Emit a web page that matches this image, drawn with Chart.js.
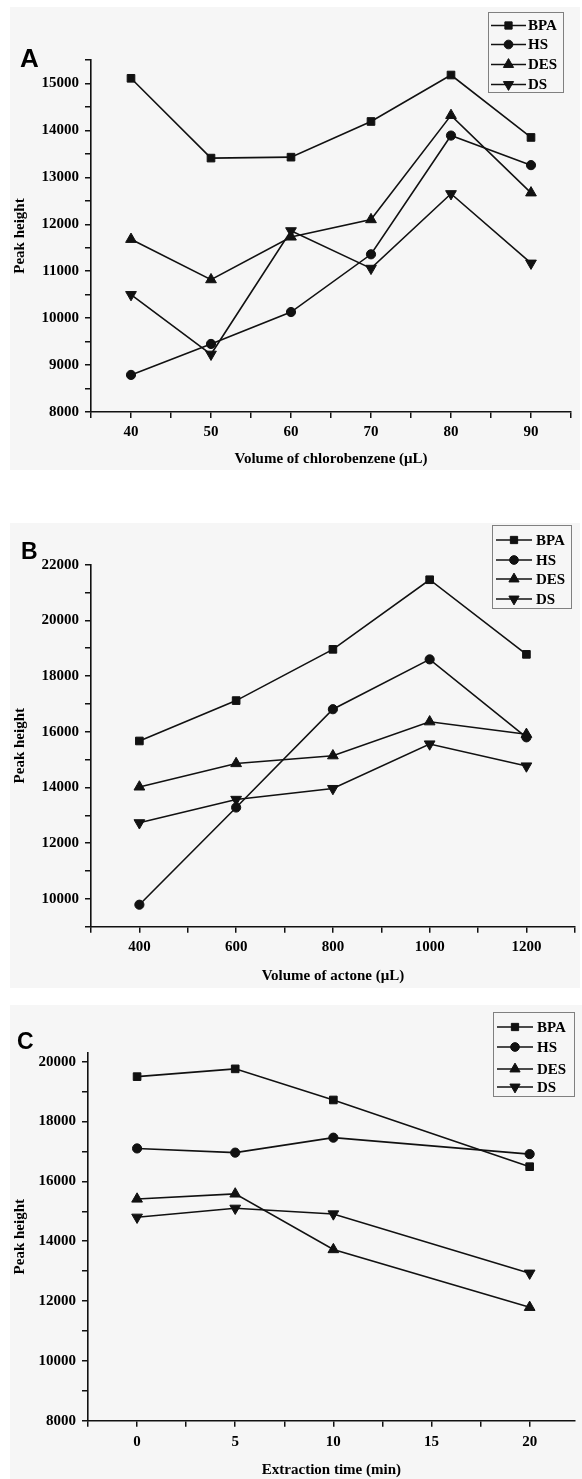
<!DOCTYPE html>
<html><head><meta charset="utf-8">
<script src="https://cdn.jsdelivr.net/npm/chart.js@4.4.0/dist/chart.umd.min.js"></script>
<style>
html,body{margin:0;padding:0;background:#fff;width:582px;height:1479px;overflow:hidden;position:relative}
.bg{position:absolute;background:#f6f6f6}
canvas{position:absolute;left:0}
</style></head><body>
<div class="bg" style="left:10px;top:7px;width:570px;height:463px"></div>
<div class="bg" style="left:10px;top:523px;width:570px;height:465px"></div>
<div class="bg" style="left:10px;top:1005px;width:572px;height:474px"></div>
<canvas id="cA" width="582" height="490" style="top:0"></canvas>
<canvas id="cB" width="582" height="500" style="top:490px"></canvas>
<canvas id="cC" width="582" height="489" style="top:990px"></canvas>
<script>
// ---------- DATA ----------
const seriesNames = ['BPA', 'HS', 'DES', 'DS'];

// Panel A: volume of chlorobenzene
const volChlorobenzene = [40, 50, 60, 70, 80, 90];
const bpaA = [15110, 13410, 13430, 14190, 15180, 13850];
const hsA  = [8790, 9450, 10130, 11360, 13890, 13260];
const desA = [11680, 10820, 11730, 12100, 14320, 12670];
const dsA  = [10500, 9230, 11860, 11060, 12650, 11170];
const xTicksA  = [35, 40, 45, 50, 55, 60, 65, 70, 75, 80, 85, 90, 95];
const xLabelsA = [40, 50, 60, 70, 80, 90];
const yTicksA  = [8000, 8500, 9000, 9500, 10000, 10500, 11000, 11500, 12000, 12500, 13000, 13500, 14000, 14500, 15000, 15500];
const yLabelsA = [8000, 9000, 10000, 11000, 12000, 13000, 14000, 15000];

// Panel B: volume of acetone
const volAcetone = [400, 600, 800, 1000, 1200];
const bpaB = [15670, 17120, 18960, 21460, 18780];
const hsB  = [9790, 13280, 16810, 18600, 15800];
const desB = [14020, 14860, 15140, 16360, 15910];
const dsB  = [12730, 13570, 13960, 15560, 14770];
const xTicksB  = [300, 400, 500, 600, 700, 800, 900, 1000, 1100, 1200, 1300];
const xLabelsB = [400, 600, 800, 1000, 1200];
const yTicksB  = [9000, 10000, 11000, 12000, 13000, 14000, 15000, 16000, 17000, 18000, 19000, 20000, 21000, 22000];
const yLabelsB = [10000, 12000, 14000, 16000, 18000, 20000, 22000];

// Panel C: extraction time
const extractionTime = [0, 5, 10, 20];
const bpaC = [19500, 19760, 18720, 16490];
const hsC  = [17100, 16960, 17460, 16910];
const desC = [15410, 15580, 13720, 11790];
const dsC  = [14800, 15100, 14910, 12930];
const xTicksC  = [-2.5, 0, 2.5, 5, 7.5, 10, 12.5, 15, 17.5, 20];
const xLabelsC = [0, 5, 10, 15, 20];
const yTicksC  = [8000, 9000, 10000, 11000, 12000, 13000, 14000, 15000, 16000, 17000, 18000, 19000, 20000];
const yLabelsC = [8000, 10000, 12000, 14000, 16000, 18000, 20000];

// ---------- STYLE ----------
const SERIF = '"Liberation Serif", "Times New Roman", serif';
const INK = '#111';
const markerStyles = [
  { pointStyle: 'rect', pointRadius: 5.4, pointRotation: 0 },
  { pointStyle: 'circle', pointRadius: 4.6, pointRotation: 0 },
  { pointStyle: 'triangle', pointRadius: 6.2, pointRotation: 0 },
  { pointStyle: 'triangle', pointRadius: 6.2, pointRotation: 180 }
];

Chart.defaults.animation = false;
Chart.defaults.font.family = SERIF;
Chart.defaults.font.weight = 'bold';
Chart.defaults.color = '#000';

const decorPlugin = {
  id: 'decor',
  afterDraw(chart, args, o) {
    const ctx = chart.ctx;
    ctx.save();
    ctx.fillStyle = '#000';
    ctx.font = 'bold ' + o.letterSize + 'px "Liberation Sans", Arial, sans-serif';
    ctx.textBaseline = 'alphabetic';
    ctx.textAlign = 'left';
    ctx.fillText(o.letter, o.letterX, o.letterY);
    const b = o.box;
    ctx.strokeStyle = '#808080';
    ctx.lineWidth = 1;
    ctx.strokeRect(b[0] + 0.5, b[1] + 0.5, b[2] - b[0], b[3] - b[1]);
    chart.data.datasets.forEach((ds, i) => {
      const y = o.rows[i];
      ctx.strokeStyle = INK;
      ctx.lineWidth = 1.6;
      ctx.beginPath();
      ctx.moveTo(o.lineX1, y);
      ctx.lineTo(o.lineX2, y);
      ctx.stroke();
      ctx.fillStyle = INK;
      ctx.lineWidth = 1;
      Chart.helpers.drawPoint(ctx, {
        pointStyle: ds.pointStyle, rotation: ds.pointRotation || 0,
        radius: ds.pointRadius * 0.95, borderWidth: 1
      }, o.markerX, y);
      ctx.fillStyle = '#000';
      ctx.font = 'bold 15px ' + SERIF;
      ctx.textBaseline = 'middle';
      ctx.fillText(ds.label, o.textX, y + 1);
    });
    ctx.restore();
  }
};

function makeChart(id, c) {
  const datasets = c.series.map((vals, i) => Object.assign({
    label: seriesNames[i],
    data: c.x.map((xv, j) => ({ x: xv, y: vals[j] })),
    borderColor: INK, backgroundColor: INK, borderWidth: 1.6,
    pointBorderWidth: 1, pointHoverRadius: markerStyles[i].pointRadius,
    tension: 0, fill: false, clip: false
  }, markerStyles[i]));
  const axisFont = { size: 15, weight: 'bold', family: SERIF };
  const grid = { display: true, drawOnChartArea: false, drawTicks: true, tickLength: 6, color: INK, lineWidth: 1.5 };
  const border = { display: true, color: INK, width: 1.6 };
  const canvas = document.getElementById(id);
  return new Chart(canvas, {
    type: 'line',
    data: { datasets },
    plugins: [decorPlugin],
    options: {
      responsive: false, devicePixelRatio: 1, animation: false,
      layout: { padding: { left: 0, top: c.plot.top, right: 582 - c.plot.right, bottom: 0 } },
      plugins: { legend: { display: false }, tooltip: { enabled: false }, decor: c.decor },
      scales: {
        x: {
          type: 'linear', min: c.xMin, max: c.xMax,
          afterBuildTicks: s => { s.ticks = c.xTicks.map(v => ({ value: v })); },
          afterFit: s => { s.height = canvas.height - c.plot.bottom; },
          ticks: { autoSkip: false, maxRotation: 0, padding: c.xTickPad, font: axisFont, color: '#000',
                   callback: v => c.xLabels.includes(v) ? String(v) : '' },
          grid, border,
          title: { display: true, text: c.xTitle, font: axisFont, color: '#000', padding: { top: 0, bottom: c.xTitlePad } }
        },
        y: {
          type: 'linear', min: c.yMin, max: c.yMax,
          afterBuildTicks: s => { s.ticks = c.yTicks.map(v => ({ value: v })); },
          afterFit: s => { s.width = c.plot.left; },
          ticks: { autoSkip: false, padding: 6, font: axisFont, color: '#000',
                   callback: v => c.yLabels.includes(v) ? String(v) : '' },
          grid, border,
          title: { display: true, text: 'Peak height', font: axisFont, color: '#000', padding: { top: 11, bottom: 0 } }
        }
      }
    }
  });
}

makeChart('cA', {
  x: volChlorobenzene, series: [bpaA, hsA, desA, dsA],
  xMin: 35, xMax: 95, yMin: 8000, yMax: 15500,
  xTicks: xTicksA, xLabels: xLabelsA, yTicks: yTicksA, yLabels: yLabelsA,
  xTitle: 'Volume of chlorobenzene (μL)',
  plot: { left: 91, right: 571, top: 60, bottom: 412 },
  xTickPad: 5, xTitlePad: 22,
  decor: { letter: 'A', letterSize: 26, letterX: 20, letterY: 67,
           box: [488, 12, 563, 92], rows: [25.5, 44.5, 64.5, 84.5],
           lineX1: 491, lineX2: 526, markerX: 508.5, textX: 528 }
});

makeChart('cB', {
  x: volAcetone, series: [bpaB, hsB, desB, dsB],
  xMin: 300, xMax: 1300, yMin: 9000, yMax: 22000,
  xTicks: xTicksB, xLabels: xLabelsB, yTicks: yTicksB, yLabels: yLabelsB,
  xTitle: 'Volume of actone (μL)',
  plot: { left: 91, right: 579, top: 74.7, bottom: 436.7 },
  xTickPad: 5, xTitlePad: 5,
  decor: { letter: 'B', letterSize: 23, letterX: 21, letterY: 69,
           box: [492, 35, 571, 118], rows: [50, 70, 89, 109],
           lineX1: 496, lineX2: 532, markerX: 514, textX: 536 }
});

makeChart('cC', {
  x: extractionTime, series: [bpaC, hsC, desC, dsC],
  xMin: -2.5, xMax: 22.3, yMin: 8000, yMax: 20300,
  xTicks: xTicksC, xLabels: xLabelsC, yTicks: yTicksC, yLabels: yLabelsC,
  xTitle: 'Extraction time (min)',
  plot: { left: 88, right: 580.7, top: 62.7, bottom: 430.7 },
  xTickPad: 6, xTitlePad: 0,
  decor: { letter: 'C', letterSize: 23, letterX: 17, letterY: 59,
           box: [493, 22, 574, 106], rows: [37, 57, 79, 97],
           lineX1: 497, lineX2: 533, markerX: 515, textX: 537 }
});
</script>
</body></html>
